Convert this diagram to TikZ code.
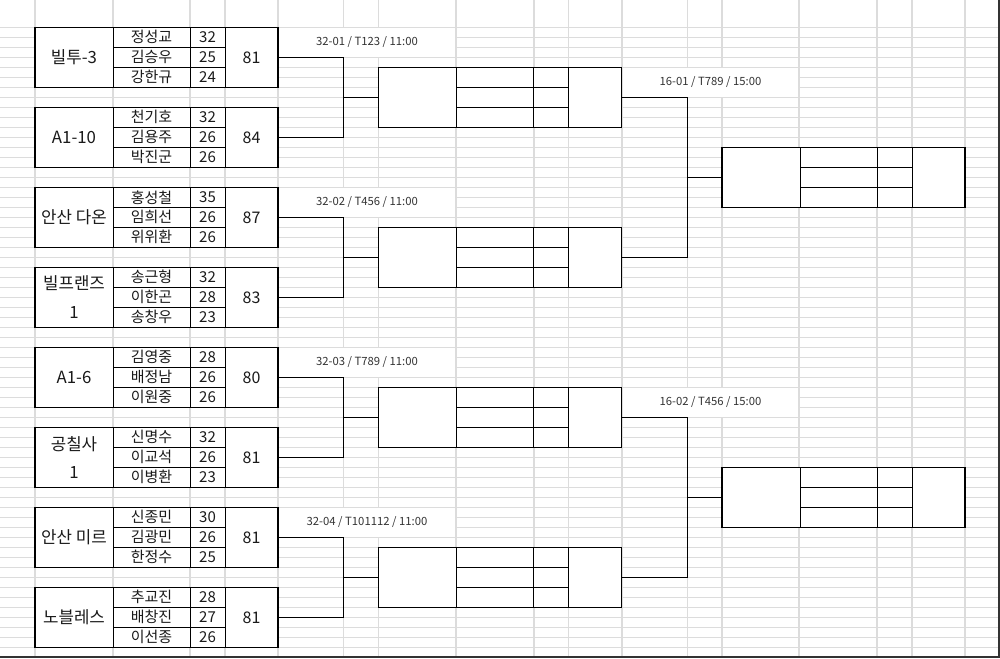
\documentclass[tikz,border=0pt]{standalone}
\usepackage{fontspec}
\setmainfont{Noto Sans CJK KR}
\usetikzlibrary{calc}
\definecolor{gridc}{HTML}{DCDCDC}
\definecolor{lblc}{HTML}{333333}
\definecolor{txtc}{HTML}{1A1A1A}
\newcommand\matchbox[3]{%
  \node[cellbox] (#1) at (#2,#3) {};
  \draw[innerline] (#2+78,#3) -- (#2+78,#3+60);
  \draw[innerline] (#2+155,#3) -- (#2+155,#3+60);
  \draw[innerline] (#2+190,#3) -- (#2+190,#3+60);
  \draw[innerline] (#2+78,#3+20) -- (#2+190,#3+20);
  \draw[innerline] (#2+78,#3+40) -- (#2+190,#3+40);
}
\begin{document}
\begin{tikzpicture}[x=1pt,y=-1pt,
  gridh/.style={draw=gridc,line width=1pt},
  gridv/.style={draw=gridc,line width=1.6pt},
  cellbox/.style={draw=black,line width=1.2pt,fill=white,rectangle,inner sep=0pt,outer sep=0pt,minimum width=243pt,minimum height=60pt,anchor=north west},
  innerline/.style={draw=black,line width=1pt},
  conn/.style={draw=black,line width=1.2pt},
  tname/.style={font=\fontsize{16.8}{28.5}\selectfont,text=txtc,align=center,inner sep=0pt},
  pname/.style={font=\fontsize{15}{16}\selectfont,text=txtc,inner sep=0pt},
  scorec/.style={font=\fontsize{15}{16}\selectfont,text=txtc,inner sep=0pt},
  totalc/.style={font=\fontsize{16}{17}\selectfont,text=txtc,inner sep=0pt},
  lbl/.style={font=\fontsize{11.3}{12}\selectfont,text=lblc,inner sep=0pt},
  frame/.style={fill=black!80},
]
\useasboundingbox (0,0) rectangle (1000,658);
\fill[white] (0,0) rectangle (1000,658);
% grid
\foreach \k in {0,...,62} { \draw[gridh] (0,27.3+10*\k) -- (1000,27.3+10*\k); }
\foreach \xx in {35,113,190,225,278,343.3,378.5,456,534,568.3,622,687.3,722,799,877,912,965} { \draw[gridv] (\xx,0) -- (\xx,658); }
% merged label cells
\foreach \k in {0,1,2,3} { \fill[white] (278.8,27.8+160*\k) rectangle (455.2,56.8+160*\k); }
\foreach \k in {0,1} { \fill[white] (622.8,67.8+320*\k) rectangle (798.2,96.8+320*\k); }
% team boxes
\foreach \i in {1,...,8} {
  \pgfmathsetmacro\ty{27.3+80*(\i-1)}
  \matchbox{t\i}{35}{\ty}
}
% round 2 boxes
\foreach \i in {1,...,4} {
  \pgfmathsetmacro\ty{67.3+160*(\i-1)}
  \matchbox{m\i}{378.5}{\ty}
}
% round 3 boxes
\matchbox{f1}{722}{147.3}
\matchbox{f2}{722}{467.3}
% junctions
\foreach \i in {1,...,4} { \coordinate (j\i) at (343.3,97.3+160*\i-160); }
\coordinate (k1) at (687.3,177.3);
\coordinate (k2) at (687.3,497.3);
% connectors round 1
\foreach \i/\a/\b in {1/1/2,2/3/4,3/5/6,4/7/8} {
  \draw[conn] (t\a.east) -- (t\a.east -| j\i) -- (t\b.east -| j\i) -- (t\b.east);
  \draw[conn] (j\i) -- (m\i.west);
}
% connectors round 2
\draw[conn] (m1.east) -- (m1.east -| k1) -- (m2.east -| k1) -- (m2.east);
\draw[conn] (k1) -- (f1.west);
\draw[conn] (m3.east) -- (m3.east -| k2) -- (m4.east -| k2) -- (m4.east);
\draw[conn] (k2) -- (f2.west);
% team texts
\foreach \i/\tn/\pa/\sa/\pb/\sb/\pc/\sc/\tot in {
  1/{빌투-3}/정성교/32/김승우/25/강한규/24/81,
  2/{A1-10}/천기호/32/김용주/26/박진군/26/84,
  3/{안산 다온}/홍성철/35/임희선/26/위위환/26/87,
  4/{빌프랜즈\\1}/송근형/32/이한곤/28/송창우/23/83,
  5/{A1-6}/김영중/28/배정남/26/이원중/26/80,
  6/{공칠사\\1}/신명수/32/이교석/26/이병환/23/81,
  7/{안산 미르}/신종민/30/김광민/26/한정수/25/81,
  8/{노블레스}/추교진/28/배창진/27/이선종/26/81} {
  \pgfmathsetmacro\ty{27.3+80*(\i-1)}
  \node[tname] (tn\i) at (74,\ty+30) {\tn};
  \node[pname] (pa\i) at (151.5,\ty+10) {\pa};
  \node[pname] (pb\i) at (151.5,\ty+30) {\pb};
  \node[pname] (pc\i) at (151.5,\ty+50) {\pc};
  \node[scorec] (sa\i) at (207.5,\ty+10) {\sa};
  \node[scorec] (sb\i) at (207.5,\ty+30) {\sb};
  \node[scorec] (sc\i) at (207.5,\ty+50) {\sc};
  \node[totalc] (tt\i) at (251.5,\ty+30) {\tot};
}
% labels
\node[lbl] (l1) at (367,42.3) {32-01 / T123 / 11:00};
\node[lbl] (l2) at (367,202.3) {32-02 / T456 / 11:00};
\node[lbl] (l3) at (367,362.3) {32-03 / T789 / 11:00};
\node[lbl] (l4) at (367,522.3) {32-04 / T101112 / 11:00};
\node[lbl] (l5) at (710.5,82.3) {16-01 / T789 / 15:00};
\node[lbl] (l6) at (710.5,402.3) {16-02 / T456 / 15:00};
% screenshot frame edges
\fill[frame] (997.5,0) rectangle (1000,658);
\fill[frame] (0,655.7) rectangle (1000,658);
\end{tikzpicture}
\end{document}
